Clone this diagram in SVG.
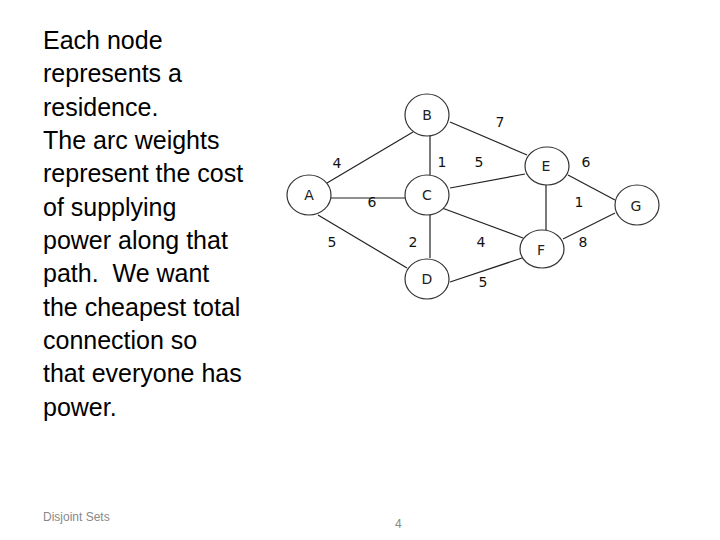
<svg xmlns="http://www.w3.org/2000/svg" width="720" height="540" viewBox="0 0 720 540">
<style>
.t{font-family:"Liberation Sans",Arial,sans-serif;font-size:25px;fill:#000;white-space:pre}
.n{fill:#fff;stroke:#333;stroke-width:1.2}
.nl{font-family:"DejaVu Sans",sans-serif;font-size:14px;fill:#222;text-anchor:middle}
.w{font-family:"DejaVu Sans",sans-serif;font-size:14px;fill:#111;text-anchor:middle}
.e{stroke:#222;stroke-width:1.2;fill:none}
.f{font-family:"Liberation Sans",Arial,sans-serif;font-size:12px;fill:#888}
</style>
<rect width="720" height="540" fill="#fff"/>
<g id="description">
<text class="t" x="43" y="49">Each node</text>
<text class="t" x="43" y="82">represents a</text>
<text class="t" x="43" y="116">residence.</text>
<text class="t" x="43" y="149">The arc weights</text>
<text class="t" x="43" y="182">represent the cost</text>
<text class="t" x="43" y="216">of supplying</text>
<text class="t" x="43" y="249">power along that</text>
<text class="t" x="43" y="282" xml:space="preserve">path.  We want</text>
<text class="t" x="43" y="316">the cheapest total</text>
<text class="t" x="43" y="349">connection so</text>
<text class="t" x="43" y="382">that everyone has</text>
<text class="t" x="43" y="416">power.</text>
</g>
<g id="connectors">
<line class="e" x1="327" y1="183" x2="413" y2="132"/>
<line class="e" x1="331" y1="198" x2="406" y2="198"/>
<line class="e" x1="318" y1="215" x2="407" y2="268"/>
<line class="e" x1="430" y1="133" x2="430" y2="176"/>
<line class="e" x1="430" y1="214" x2="430" y2="258"/>
<line class="e" x1="450" y1="122" x2="527" y2="155"/>
<line class="e" x1="450" y1="188" x2="525" y2="174"/>
<line class="e" x1="442" y1="208" x2="523" y2="238"/>
<line class="e" x1="450" y1="282" x2="522" y2="258"/>
<line class="e" x1="546" y1="185" x2="546" y2="230"/>
<line class="e" x1="568" y1="175" x2="615" y2="200"/>
<line class="e" x1="563" y1="239" x2="615" y2="213"/>
<text class="w" x="337" y="168">4</text>
<text class="w" x="442" y="167">1</text>
<text class="w" x="479" y="167">5</text>
<text class="w" x="372" y="207">6</text>
<text class="w" x="332" y="247">5</text>
<text class="w" x="413" y="247">2</text>
<text class="w" x="481" y="247">4</text>
<text class="w" x="483" y="287">5</text>
<text class="w" x="500" y="127">7</text>
<text class="w" x="586" y="167">6</text>
<text class="w" x="579" y="207">1</text>
<text class="w" x="583" y="247">8</text>
</g>
<g id="A"><ellipse class="n" cx="309" cy="195" rx="22" ry="20"/><text class="nl" x="309" y="200">A</text></g>
<g id="B"><ellipse class="n" cx="427" cy="115" rx="22" ry="21"/><text class="nl" x="427" y="120">B</text></g>
<g id="C"><ellipse class="n" cx="427" cy="195" rx="22" ry="20"/><text class="nl" x="427" y="200">C</text></g>
<g id="D"><ellipse class="n" cx="427" cy="279" rx="22" ry="20"/><text class="nl" x="427" y="284">D</text></g>
<g id="E"><ellipse class="n" cx="547" cy="166" rx="22" ry="19"/><text class="nl" x="546" y="171">E</text></g>
<g id="F"><ellipse class="n" cx="542" cy="249" rx="22" ry="19"/><text class="nl" x="541" y="255">F</text></g>
<g id="G"><ellipse class="n" cx="637" cy="205" rx="22" ry="20"/><text class="nl" x="636" y="211">G</text></g>
<g id="footer">
<text class="f" x="43" y="521">Disjoint Sets</text>
<text class="f" x="395" y="528">4</text>
</g>
</svg>
